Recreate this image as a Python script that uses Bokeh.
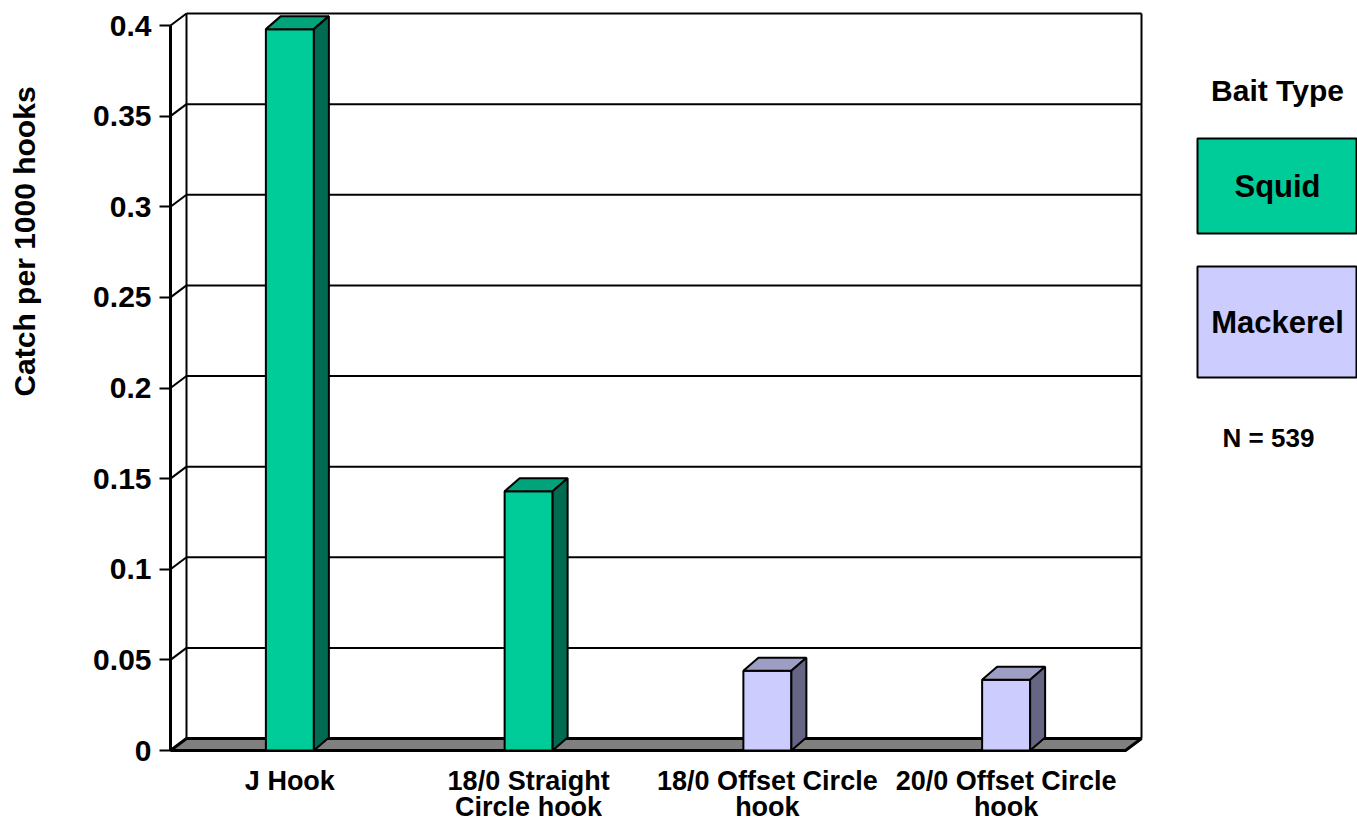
import math
from bokeh.plotting import figure
from bokeh.models import Range1d, FixedTicker, Label, ColumnDataSource
from bokeh.embed import file_html
from bokeh.resources import INLINE

# ---------------- data ----------------
CATEGORIES = ["J Hook", "18/0 Straight\nCircle hook", "18/0 Offset Circle\nhook", "20/0 Offset Circle\nhook"]
BAIT = ["Squid", "Squid", "Mackerel", "Mackerel"]
CATCH = [0.398, 0.143, 0.044, 0.039]
Y_TICKS = [0.0, 0.05, 0.1, 0.15, 0.2, 0.25, 0.3, 0.35, 0.4]
Y_TICK_LABELS = ["0", "0.05", "0.1", "0.15", "0.2", "0.25", "0.3", "0.35", "0.4"]
Y_TITLE = "Catch per 1000 hooks"
LEGEND_TITLE = "Bait Type"
LEGEND_ITEMS = ["Squid", "Mackerel"]
NOTE = "N = 539"

# ---------------- styles ----------------
FRONT = {"Squid": "#00CC99", "Mackerel": "#CCCCFF"}
TOP = {"Squid": "#00A37A", "Mackerel": "#9E9EC4"}
SIDE = {"Squid": "#006B50", "Mackerel": "#666684"}
FONT = "Liberation Sans"

# ---------------- geometry (canvas pixels -> data units) ----------------
W, H = 1357, 822
X0_PX, XPU = 170.0, 238.75      # canvas x of x=0, px per category unit
Y0_PX, YPU = 750.0, 1812.5      # canvas y of y=0, px per value unit


def xd(px):
    return (px - X0_PX) / XPU


def yd(py):
    return (Y0_PX - py) / YPU


p = figure(width=W, height=H,
           x_range=Range1d(xd(0), xd(W)),
           y_range=Range1d(yd(H), yd(0)),
           output_backend="svg", toolbar_location=None)
p.min_border = 0
p.min_border_left = 0
p.min_border_right = 0
p.min_border_top = 0
p.min_border_bottom = 0
p.outline_line_color = None
p.grid.visible = False
p.background_fill_color = "white"
p.border_fill_color = "white"

n = len(CATEGORIES)
centers = [i + 0.5 for i in range(n)]
ymax = Y_TICKS[-1]
WDX, WDY = 16 / XPU, 12 / YPU     # wall depth
BDX, BDY = 15 / XPU, 13 / YPU     # bar depth
HALF = 24 / XPU                    # half bar width

# back wall gridlines + verticals
grid_t = Y_TICKS[1:]
p.segment(x0=[WDX] * len(grid_t), y0=[t + WDY for t in grid_t],
          x1=[n + WDX] * len(grid_t), y1=[t + WDY for t in grid_t],
          line_color="black", line_width=2)
p.segment(x0=[WDX, n + WDX], y0=[WDY, WDY], x1=[WDX, n + WDX], y1=[ymax + WDY, ymax + WDY],
          line_color="black", line_width=2)
# side wall diagonals at each tick
p.segment(x0=[0] * len(grid_t), y0=grid_t, x1=[WDX] * len(grid_t), y1=[t + WDY for t in grid_t],
          line_color="black", line_width=2)

# floor
p.patch([0, n, n + WDX, WDX], [0, 0, WDY, WDY], fill_color="#808080",
        line_color="black", line_width=3)

# 3D bars
lefts = [c - HALF for c in centers]
rights = [c + HALF for c in centers]
front_src = ColumnDataSource(dict(left=lefts, right=rights, top=CATCH, bottom=[0] * n,
                                  color=[FRONT[b] for b in BAIT]))
p.quad(left="left", right="right", top="top", bottom="bottom", source=front_src,
       fill_color="color", line_color="black", line_width=2)

top_xs = [[l, r, r + BDX, l + BDX] for l, r in zip(lefts, rights)]
top_ys = [[v, v, v + BDY, v + BDY] for v in CATCH]
side_xs = [[r, r + BDX, r + BDX, r] for r in rights]
side_ys = [[0, BDY, v + BDY, v] for v in CATCH]
p.patches(xs=top_xs, ys=top_ys, fill_color=[TOP[b] for b in BAIT],
          line_color="black", line_width=2)
p.patches(xs=side_xs, ys=side_ys, fill_color=[SIDE[b] for b in BAIT],
          line_color="black", line_width=2)

# y axis (drawn at x = 0 inside the canvas)
ya = p.yaxis[0]
ya.fixed_location = 0
ya.ticker = FixedTicker(ticks=Y_TICKS)
ya.major_label_overrides = dict(zip(Y_TICKS, Y_TICK_LABELS))
ya.bounds = (0, ymax)
ya.axis_line_width = 3
ya.axis_line_color = "black"
ya.major_tick_line_width = 2
ya.major_tick_out = 11
ya.major_tick_in = 0
ya.minor_tick_line_color = None
ya.major_label_standoff = 8
ya.major_label_text_font = FONT
ya.major_label_text_font_style = "bold"
ya.major_label_text_font_size = "30px"
ya.major_label_text_color = "black"

# x axis (labels under y = 0)
xa = p.xaxis[0]
xa.fixed_location = 0
xa.ticker = FixedTicker(ticks=centers)
xa.major_label_overrides = dict(zip(centers, CATEGORIES))
xa.axis_line_color = None
xa.major_tick_line_color = None
xa.minor_tick_line_color = None
xa.major_tick_out = 0
xa.major_tick_in = 0
xa.major_label_standoff = 15
xa.major_label_text_font = FONT
xa.major_label_text_font_style = "bold"
xa.major_label_text_font_size = "27px"
xa.major_label_text_line_height = 0.87
xa.major_label_text_color = "black"

# y title
p.add_layout(Label(x=xd(24), y=yd(241), text=Y_TITLE, angle=math.pi / 2,
                   text_align="center", text_baseline="middle", text_font=FONT,
                   text_font_style="bold", text_font_size="30px", text_color="black"))

# legend
LEG_CX = 1277
p.add_layout(Label(x=xd(LEG_CX), y=yd(90), text=LEGEND_TITLE, text_align="center",
                   text_baseline="middle", text_font=FONT, text_font_style="bold",
                   text_font_size="30px", text_color="black"))
box_tops = [138, 266]
box_bottoms = [233, 377]
p.quad(left=[xd(1197)] * 2, right=[xd(1356)] * 2,
       top=[yd(t) for t in box_tops], bottom=[yd(b) for b in box_bottoms],
       fill_color=[FRONT[k] for k in LEGEND_ITEMS], line_color="black", line_width=2)
for item, t, b in zip(LEGEND_ITEMS, box_tops, box_bottoms):
    p.add_layout(Label(x=xd(LEG_CX), y=yd((t + b) / 2), text=item, text_align="center",
                       text_baseline="middle", text_font=FONT, text_font_style="bold",
                       text_font_size="31px", text_color="black"))
p.add_layout(Label(x=xd(1268), y=yd(437), text=NOTE, text_align="center",
                   text_baseline="middle", text_font=FONT, text_font_style="bold",
                   text_font_size="26px", text_color="black"))

open("out.html", "w").write(file_html(p, INLINE))
